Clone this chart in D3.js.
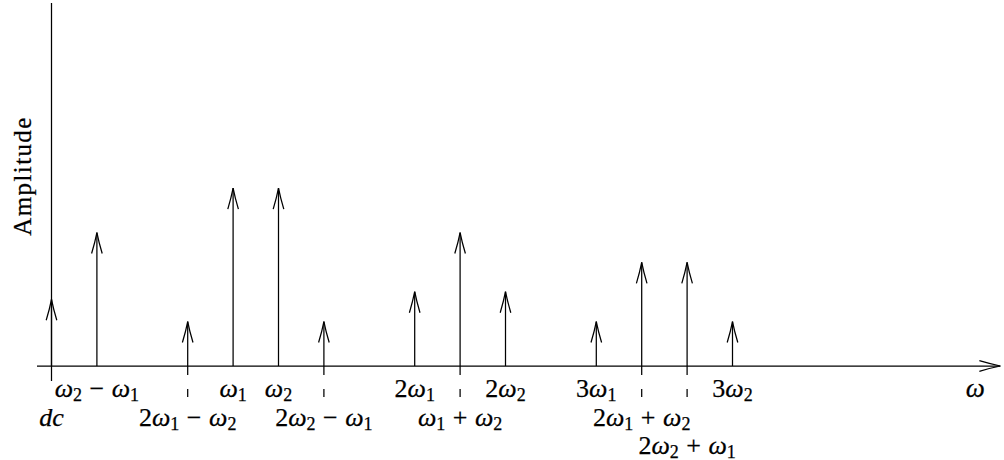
<!DOCTYPE html>
<html>
<head>
<meta charset="utf-8">
<script src="https://cdn.jsdelivr.net/npm/d3@7"></script>
<style>
  html, body { margin: 0; padding: 0; background: #fff; }
  svg { display: block; }
</style>
</head>
<body>
<svg id="chart" width="1004" height="460"></svg>
<script>
// Spectral components: position on the frequency axis (in steps), amplitude, label, label row
const positions  = [0, 1, 3, 4, 5, 6, 8, 9, 10, 12, 13, 14, 15];
const amplitudes = [1.5, 3, 1, 4, 4, 1, 1.67, 3, 1.67, 1, 2.33, 2.33, 1];
const labels     = ["dc", "ω_2−ω_1", "2ω_1−ω_2", "ω_1", "ω_2", "2ω_2−ω_1", "2ω_1",
                    "ω_1+ω_2", "2ω_2", "3ω_1", "2ω_1+ω_2", "2ω_2+ω_1", "3ω_2"];
const labelRows  = [2, 1, 2, 1, 1, 2, 1, 2, 1, 1, 2, 3, 1];

const FONT = '"Liberation Serif", "Times New Roman", Tinos, serif';
const svg = d3.select("#chart");
const ink = "#000";
const lw = 1.25;

const x = d3.scaleLinear().domain([0, 15]).range([51.5, 732.5]);
const y = d3.scaleLinear().domain([0, 8.16]).range([366, 3]);

const xMin = -0.32, xMax = 20.9;
const rowBaseline = { 1: 397, 2: 426, 3: 454 };

// open arrow head with slightly curved arms, tip at (0,0) pointing up
function headPath(len, half) {
  return `M${-half},${len} Q${-half * 0.35},${len * 0.45} 0,0 Q${half * 0.35},${len * 0.45} ${half},${len}`;
}

// axes
svg.append("line")
  .attr("x1", x(xMin)).attr("x2", x(xMax))
  .attr("y1", y(0)).attr("y2", y(0))
  .attr("stroke", ink).attr("stroke-width", lw);
svg.append("path")
  .attr("d", headPath(21, 5.3))
  .attr("transform", `translate(${x(xMax)},${y(0)}) rotate(90)`)
  .attr("fill", "none").attr("stroke", ink).attr("stroke-width", lw);

svg.append("line")
  .attr("x1", x(0)).attr("x2", x(0))
  .attr("y1", y(0)).attr("y2", y(y.domain()[1]))
  .attr("stroke", ink).attr("stroke-width", lw);

// components
const comps = positions.map((p, i) => ({
  pos: p, amp: amplitudes[i], label: labels[i], row: labelRows[i]
}));

const g = svg.append("g");

g.selectAll("line.stem").data(comps).join("line")
  .attr("class", "stem")
  .attr("x1", d => x(d.pos)).attr("x2", d => x(d.pos))
  .attr("y1", y(0)).attr("y2", d => y(d.amp))
  .attr("stroke", ink).attr("stroke-width", lw);

g.selectAll("path.head").data(comps).join("path")
  .attr("class", "head")
  .attr("d", headPath(21, 5.3))
  .attr("transform", d => `translate(${x(d.pos)},${y(d.amp)})`)
  .attr("fill", "none").attr("stroke", ink).attr("stroke-width", lw);

// leader ticks below the axis for labels set on lower rows
g.selectAll("line.lead").data(comps.filter(d => d.row > 1)).join("line")
  .attr("class", "lead")
  .attr("x1", d => x(d.pos)).attr("x2", d => x(d.pos))
  .attr("y1", y(0))
  .attr("y2", d => d.pos === 0 ? y(0) + 15 : y(0) + 31)
  .attr("stroke-dasharray", d => d.pos === 0 ? null : "9 14 9")
  .attr("stroke", ink).attr("stroke-width", lw);

// math-style label: italic letters, upright digits/operators, "_" marks a subscript
const fs = 26, subFs = 18, subDy = 3.5, opGap = 7.5;
function mathLabel(sel, str) {
  let prevSub = false, prevOp = false;
  for (let i = 0; i < str.length; i++) {
    let ch = str[i], sub = false;
    if (ch === "_") { i++; ch = str[i]; sub = true; }
    const isOp = ch === "−" || ch === "+";
    const t = sel.append("tspan").text(ch);
    let dy = 0;
    if (sub && !prevSub) dy = subDy;
    if (!sub && prevSub) dy = -subDy;
    if (dy) t.attr("dy", dy);
    if (sub) t.attr("font-size", subFs);
    if (/[a-zω]/.test(ch)) t.attr("font-style", "italic");
    if (isOp || prevOp) t.attr("dx", opGap);
    prevSub = sub;
    prevOp = isOp;
  }
}

g.selectAll("text.lab").data(comps).join("text")
  .attr("class", "lab")
  .attr("x", d => x(d.pos))
  .attr("y", d => rowBaseline[d.row])
  .attr("text-anchor", "middle")
  .attr("font-size", fs)
  .style("font-family", FONT)
  .attr("fill", ink).attr("stroke", ink).attr("stroke-width", 0.25)
  .each(function (d) { mathLabel(d3.select(this), d.label); });

// axis titles
svg.append("text")
  .attr("x", x(20.35)).attr("y", 397)
  .attr("text-anchor", "middle")
  .attr("font-size", fs + 1).attr("font-style", "italic")
  .style("font-family", FONT)
  .attr("fill", ink).attr("stroke", ink).attr("stroke-width", 0.25)
  .text("ω");

svg.append("text")
  .attr("transform", "translate(31,176) rotate(-90)")
  .attr("text-anchor", "middle")
  .attr("font-size", 25)
  .attr("letter-spacing", 1.4)
  .style("font-family", FONT)
  .attr("fill", ink).attr("stroke", ink).attr("stroke-width", 0.25)
  .text("Amplitude");
</script>
</body>
</html>
